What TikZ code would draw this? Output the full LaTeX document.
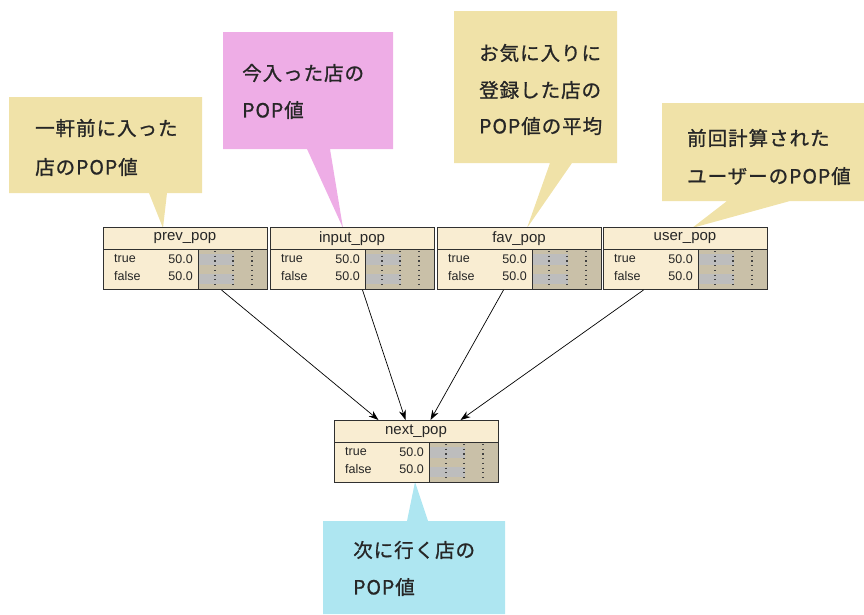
\documentclass[tikz,border=0pt]{standalone}
\usepackage{fontspec}
\setmainfont{Liberation Sans}
\newfontfamily\jpfont[LetterSpace=5,FakeBold=1]{Noto Sans CJK JP}
\usetikzlibrary{arrows.meta,calc}
\definecolor{cyellow}{HTML}{F0E2A8}
\definecolor{cpink}{HTML}{EEADE6}
\definecolor{ccyan}{HTML}{AEE6F1}
\definecolor{nodebg}{HTML}{F9EDD2}
\definecolor{barbg}{HTML}{C9C0A8}
\definecolor{barfg}{HTML}{BDBDBD}
\definecolor{edgecol}{HTML}{303030}
\tikzset{
  bnbox/.style={draw=edgecol, line width=1pt, inner sep=0pt, minimum width=164pt, minimum height=62pt},
  hdr/.style={inner sep=0pt, font=\fontsize{15}{17}\selectfont, text=black!85},
  cell/.style={inner sep=0pt, font=\fontsize{12.5}{14}\selectfont, text=black!85},
  sepline/.style={draw=edgecol, line width=1pt},
  dotline/.style={draw=black!75, line width=1.1pt, dash pattern=on 1.2pt off 3.5pt},
  jp/.style={inner sep=0pt, anchor=west, font=\jpfont\fontsize{19.5}{22}\selectfont, text=black!85},
  arr/.style={draw=black, line width=0.7pt, -{Stealth[length=10pt,width=7pt]}}
}
\newcommand\bnet[4]{%
  \fill[nodebg] (#2,#3) rectangle ({#2+164},{#3+62});
  \fill[barbg] ({#2+95},{#3+22}) rectangle ({#2+164},{#3+62});
  \fill[barfg] ({#2+95},{#3+27}) rectangle ({#2+131},{#3+38});
  \fill[barfg] ({#2+95},{#3+47}) rectangle ({#2+131},{#3+57});
  \foreach \dx in {17,35,54} {\draw[dotline] ({#2+95+\dx},{#3+24}) -- ({#2+95+\dx},{#3+61});}
  \draw[sepline] (#2,{#3+22}) -- ({#2+164},{#3+22});
  \draw[sepline] ({#2+95},{#3+22}) -- ({#2+95},{#3+62});
  \node[bnbox, anchor=north west] (#1) at (#2,#3) {};
  \node[hdr] (#1-h) at ({#2+82},{#3+11.5}) {#4};
  \node[cell, anchor=west] (#1-t) at ({#2+11},{#3+32}) {true};
  \node[cell, anchor=east] (#1-tv) at ({#2+90},{#3+32}) {50.0};
  \node[cell, anchor=west] (#1-f) at ({#2+11},{#3+49}) {false};
  \node[cell, anchor=east] (#1-fv) at ({#2+90},{#3+49}) {50.0};
}
\begin{document}
\begin{tikzpicture}[x=1pt, y=-1pt]
\useasboundingbox (0,0) rectangle (864,614);
% callouts
\fill[cyellow] (9,97) -- (202,97) -- (202,193) -- (167,193) -- (163,228) -- (149,193) -- (9,193) -- cycle;
\fill[cpink] (223,32) -- (393,32) -- (393,149) -- (330,149) -- (343,228) -- (307,149) -- (223,149) -- cycle;
\fill[cyellow] (454,11) -- (617,11) -- (617,163) -- (572,163) -- (527,228) -- (550,163) -- (454,163) -- cycle;
\fill[cyellow] (662,103) -- (864,103) -- (864,201) -- (790,201) -- (692,228) -- (727,201) -- (662,201) -- cycle;
\fill[ccyan] (323,521) -- (407,521) -- (415,482) -- (428,521) -- (505,521) -- (505,614) -- (323,614) -- cycle;
\node[jp] (c1a) at (35,128) {一軒前に入った};
\node[jp] (c1b) at (35,167) {店のPOP値};
\node[jp] (c2a) at (242,73) {今入った店の};
\node[jp] (c2b) at (242,110) {POP値};
\node[jp] (c3a) at (479,53) {お気に入りに};
\node[jp] (c3b) at (479,90) {登録した店の};
\node[jp] (c3c) at (479,126) {POP値の平均};
\node[jp] (c4a) at (687,138) {前回計算された};
\node[jp] (c4b) at (687,176) {ユーザーのPOP値};
\node[jp] (c5a) at (353,550) {次に行く店の};
\node[jp] (c5b) at (353,587) {POP値};
% network nodes
\bnet{prev}{103}{227}{prev\_pop}
\bnet{input}{270}{227}{input\_pop}
\bnet{fav}{437}{227}{fav\_pop}
\bnet{user}{603}{227}{user\_pop}
\bnet{next}{334}{420}{next\_pop}
% arrows
\draw[arr] ([xshift=36pt]prev.south) -- ([xshift=-38pt]next.north);
\draw[arr] ([xshift=10pt]input.south) -- ([xshift=-11pt]next.north);
\draw[arr] ([xshift=-16pt]fav.south) -- ([xshift=14pt]next.north);
\draw[arr] ([xshift=-42pt]user.south) -- ([xshift=44pt]next.north);
\end{tikzpicture}
\end{document}
